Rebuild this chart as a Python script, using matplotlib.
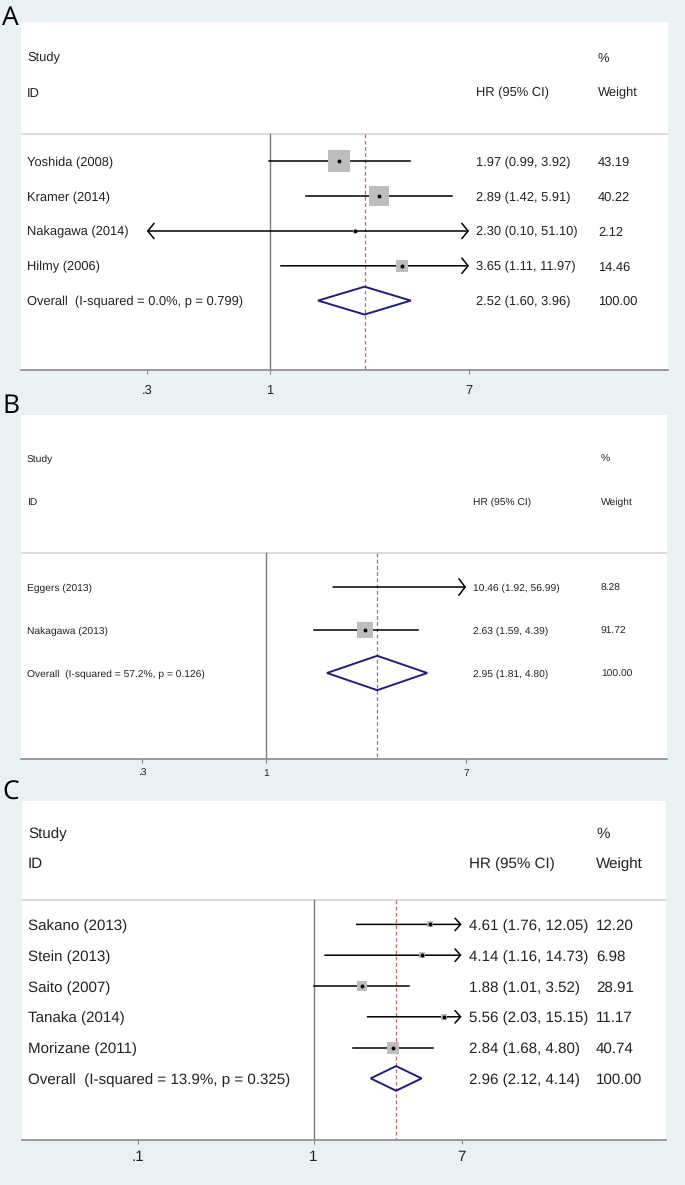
import numpy as np
import matplotlib
matplotlib.use('Agg')
import matplotlib.pyplot as plt
import matplotlib.transforms as mtransforms
from matplotlib.ticker import NullLocator
from matplotlib import font_manager

plt.rcParams['text.hinting'] = 'no_hinting'
plt.rcParams['text.antialiased'] = True

W, H = 685, 1185
BG = '#e9f1f3'

# ---- panel A data ----
a_study = ['Yoshida (2008)', 'Kramer (2014)', 'Nakagawa (2014)', 'Hilmy (2006)']
a_hr = [1.97, 2.89, 2.30, 3.65]
a_lo = [0.99, 1.42, 0.10, 1.11]
a_hi = [3.92, 5.91, 51.10, 11.97]
a_weight = [43.19, 40.22, 2.12, 14.46]
a_overall = [2.52, 1.60, 3.96]
a_het = 'I-squared = 0.0%, p = 0.799'
a_ticks = [0.3, 1, 7]
a_ticklabels = ['.3', '1', '7']

# ---- panel B data ----
b_study = ['Eggers (2013)', 'Nakagawa (2013)']
b_hr = [10.46, 2.63]
b_lo = [1.92, 1.59]
b_hi = [56.99, 4.39]
b_weight = [8.28, 91.72]
b_overall = [2.95, 1.81, 4.80]
b_het = 'I-squared = 57.2%, p = 0.126'
b_ticks = [0.3, 1, 7]
b_ticklabels = ['.3', '1', '7']

# ---- panel C data ----
c_study = ['Sakano (2013)', 'Stein (2013)', 'Saito (2007)', 'Tanaka (2014)', 'Morizane (2011)']
c_hr = [4.61, 4.14, 1.88, 5.56, 2.84]
c_lo = [1.76, 1.16, 1.01, 2.03, 1.68]
c_hi = [12.05, 14.73, 3.52, 15.15, 4.80]
c_weight = [12.20, 6.98, 28.91, 11.17, 40.74]
c_overall = [2.96, 2.12, 4.14]
c_het = 'I-squared = 13.9%, p = 0.325'
c_ticks = [0.1, 1, 7]
c_ticklabels = ['.1', '1', '7']

names = {f.name for f in font_manager.fontManager.ttflist}
narrow = 'Liberation Sans Narrow' if 'Liberation Sans Narrow' in names else 'Liberation Sans'

fig = plt.figure(figsize=(W / 100, H / 100), dpi=100)
fig.patch.set_facecolor(BG)


def draw_panel(letter, letter_y, study, hr, lo, hi, weight, overall, het, ticks, ticklabels,
               left, right, x1, ppl, study_y, row_h, col_hr, col_w,
               fsize, family, box_k, head, pad):
    n = len(study)
    axis_row = n + 5
    top = study_y - row_h
    bottom = study_y + axis_row * row_h
    ax = fig.add_axes([left / W, 1 - bottom / H, (right - left) / W, (bottom - top) / H])
    ax.set_facecolor('white')
    ax.set_xscale('log')
    ax.set_xlim(np.exp((left - x1) / ppl), np.exp((right - x1) / ppl))
    ax.set_ylim(axis_row, -1)
    for s in ['top', 'left', 'right']:
        ax.spines[s].set_visible(False)
    ax.spines['bottom'].set_color('#8a8a8a')
    ax.spines['bottom'].set_linewidth(1.2)
    ax.set_yticks([])
    ax.set_xticks(ticks)
    ax.set_xticklabels(ticklabels, fontsize=fsize, family=family, color='#222222')
    ax.xaxis.set_minor_locator(NullLocator())
    ax.tick_params(axis='x', length=3, width=0.8, color='#8a8a8a', pad=pad)

    tr = mtransforms.blended_transform_factory(ax.transAxes, ax.transData)
    fx = lambda px: (px - left) / (right - left)
    tkw = dict(fontsize=fsize, family=family, color='#222222', va='center_baseline', transform=tr)

    # header / body separator and reference lines
    sep = 2.2
    ax.axhline(sep, color='#d6d6d6', lw=1.2)
    tmin, tmax = ticks[0], ticks[-1]
    ax.plot([1, 1], [sep, axis_row], color='#7a7a7a', lw=1.0)
    ax.plot([overall[0]] * 2, [sep, axis_row], color='#c46464', lw=0.9, ls=(0, (3, 2)))

    ax.text(fx(left + 6), 0, 'Study', **tkw)
    ax.text(fx(left + 6), 1, 'ID', **tkw)
    ax.text(fx(col_hr), 1, 'HR (95% CI)', **tkw)
    ax.text(fx(col_w), 0, '%', **tkw)
    ax.text(fx(col_w), 1, 'Weight', **tkw)

    for i in range(n):
        y = 3 + i
        a = max(lo[i], tmin)
        b = min(hi[i], tmax)
        if lo[i] < tmin or hi[i] > tmax:
            # CI runs past the axis range: clip and draw open arrowheads
            style = '<->' if (lo[i] < tmin and hi[i] > tmax) else ('->' if hi[i] > tmax else '<-')
            ax.annotate('', xy=(b, y), xytext=(a, y),
                        arrowprops=dict(arrowstyle=f'{style},head_length={head[1]},head_width={head[0]}',
                                        lw=1.1, color='black', shrinkA=0, shrinkB=0, mutation_scale=10),
                        zorder=2)
        else:
            ax.plot([a, b], [y, y], color='black', lw=1.1, zorder=2)
        if tmin <= hr[i] <= tmax:
            side = box_k * np.sqrt(weight[i]) * 0.72
            ax.scatter([hr[i]], [y], marker='s', s=side ** 2, color='#bdbdbd', linewidths=0, zorder=3)
            ax.plot([hr[i]], [y], 'o', color='black', ms=1.8, zorder=4)
        ax.text(fx(left + 6), y, study[i], **tkw)
        ax.text(fx(col_hr), y, f'{hr[i]:.2f} ({lo[i]:.2f}, {hi[i]:.2f})', **tkw)
        ax.text(fx(col_w), y, f'{weight[i]:.2f}', **tkw)

    y = 3 + n
    ax.fill([overall[1], overall[0], overall[2], overall[0]], [y, y - 0.4, y, y + 0.4],
            facecolor='none', edgecolor='#1f1f7a', lw=1.4, zorder=3)
    ax.text(fx(left + 6), y, f'Overall  ({het})', **tkw)
    ax.text(fx(col_hr), y, f'{overall[0]:.2f} ({overall[1]:.2f}, {overall[2]:.2f})', **tkw)
    ax.text(fx(col_w), y, '100.00', **tkw)

    fig.text(2 / W, 1 - letter_y / H, letter, fontsize=19, family='Open Sans',
             va='baseline', ha='left', color='black')


draw_panel('A', 25, a_study, a_hr, a_lo, a_hi, a_weight, a_overall, a_het, a_ticks, a_ticklabels,
           21, 668, 270, 102.3, 57, 34.8, 476, 598, 9.3, 'Liberation Sans', 3.2, (0.55, 0.45), 7)
draw_panel('B', 413, b_study, b_hr, b_lo, b_hi, b_weight, b_overall, b_het, b_ticks, b_ticklabels,
           21, 667, 266, 102.8, 458, 43, 473, 601,
           8.9 if narrow != 'Liberation Sans' else 7.4, narrow, 1.57, (0.6, 0.45), 4)
draw_panel('C', 800, c_study, c_hr, c_lo, c_hi, c_weight, c_overall, c_het, c_ticks, c_ticklabels,
           22, 666, 313.5, 76.1, 832, 30.8, 469, 596, 10.9, 'Liberation Sans', 1.95, (0.45, 0.4), 4)

fig.savefig('out.png', dpi=100, facecolor=BG)
